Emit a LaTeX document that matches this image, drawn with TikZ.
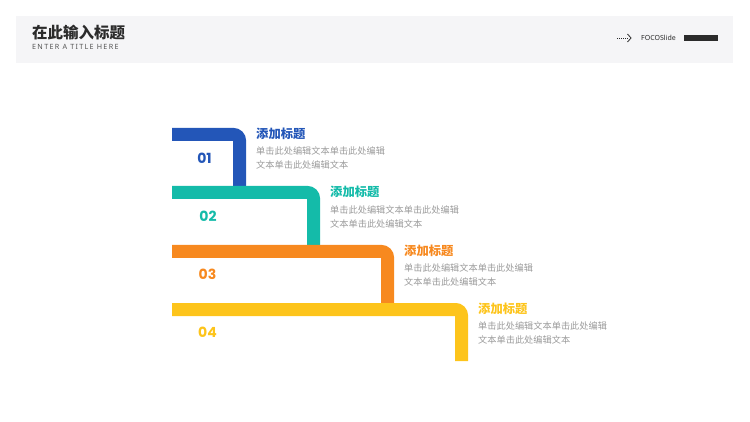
\documentclass[tikz,border=0pt]{standalone}
\usepackage{fontspec}
\setmainfont{Noto Sans CJK SC}
\newfontfamily\numfont{Poppins}
\newfontfamily\latinfont{Noto Sans}
\definecolor{hdrgray}{HTML}{F5F5F7}
\definecolor{cblue}{HTML}{2356B8}
\definecolor{cteal}{HTML}{14BBA9}
\definecolor{corange}{HTML}{F7891F}
\definecolor{cyellow}{HTML}{FDC41B}
\definecolor{descgray}{HTML}{9A9A9A}
\definecolor{darktext}{HTML}{2B2B2B}
\tikzset{
  barline/.style={line width=13pt, rounded corners=6pt, line cap=butt},
  titletext/.style={anchor=west, inner sep=0pt, font=\fontsize{12.3}{13}\selectfont\bfseries},
  desctext/.style={anchor=west, inner sep=0pt, text=descgray, font=\fontsize{9.2}{10}\selectfont},
  numtext/.style={inner sep=0pt, font=\numfont\fontsize{14}{14}\selectfont\bfseries},
}
\begin{document}
\begin{tikzpicture}[x=1pt,y=-1pt]
\useasboundingbox (0,0) rectangle (750,422);
% header
\fill[hdrgray] (16,16) rectangle (733,63);
\node[anchor=west, inner sep=0pt, text=darktext, font=\fontsize{15.5}{16}\selectfont\bfseries] (htitle) at (32,33) {在此输入标题};
\node[anchor=west, inner sep=0pt, text=darktext!80, font=\latinfont\fontsize{7.2}{8}\selectfont\addfontfeatures{LetterSpace=18}] (hsub) at (32,47) {ENTER A TITLE HERE};
\coordinate (arrA) at (617,38);
\coordinate (arrB) at (628,38);
\draw[darktext, line width=0.6pt, dash pattern=on 1pt off 1pt] (arrA) -- (arrB);
\draw[darktext, line width=0.8pt] (627.5,34) -- (631,38) -- (627.5,42);
\node[anchor=west, inner sep=0pt, text=darktext, font=\latinfont\fontsize{7}{7}\selectfont] (brand) at (641,38) {FOCOSlide};
\fill[darktext] (684,35.5) rectangle (718,41);
% bars
\coordinate (b1s) at (172,134.5); \coordinate (b1c) at (239.5,134.5); \coordinate (b1e) at (239.5,193);
\coordinate (b2s) at (172,192.5); \coordinate (b2c) at (313.5,192.5); \coordinate (b2e) at (313.5,252);
\coordinate (b3s) at (172,251.5); \coordinate (b3c) at (387.5,251.5); \coordinate (b3e) at (387.5,310);
\coordinate (b4s) at (172,309.5); \coordinate (b4c) at (461.5,309.5); \coordinate (b4e) at (461.5,361);
\draw[barline, cblue] (b1s) -- (b1c) -- (b1e);
\draw[barline, cteal] (b2s) -- (b2c) -- (b2e);
\draw[barline, corange] (b3s) -- (b3c) -- (b3e);
\draw[barline, cyellow] (b4s) -- (b4c) -- (b4e);
% numbers
\node[numtext, text=cblue] (n1) at (204.5,158) {01};
\node[numtext, text=cteal] (n2) at (208,216.5) {02};
\node[numtext, text=corange] (n3) at (207.5,274.5) {03};
\node[numtext, text=cyellow] (n4) at (207.5,332.5) {04};
% texts
\node[titletext, text=cblue] (t1) at (256,134) {添加标题};
\node[desctext] (d1a) at (256,151) {单击此处编辑文本单击此处编辑};
\node[desctext] (d1b) at (256,165) {文本单击此处编辑文本};
\node[titletext, text=cteal] (t2) at (330,192) {添加标题};
\node[desctext] (d2a) at (330,209.5) {单击此处编辑文本单击此处编辑};
\node[desctext] (d2b) at (330,223.5) {文本单击此处编辑文本};
\node[titletext, text=corange] (t3) at (404,250.5) {添加标题};
\node[desctext] (d3a) at (404,268) {单击此处编辑文本单击此处编辑};
\node[desctext] (d3b) at (404,282) {文本单击此处编辑文本};
\node[titletext, text=cyellow] (t4) at (478,309) {添加标题};
\node[desctext] (d4a) at (478,326) {单击此处编辑文本单击此处编辑};
\node[desctext] (d4b) at (478,340) {文本单击此处编辑文本};
\end{tikzpicture}
\end{document}
